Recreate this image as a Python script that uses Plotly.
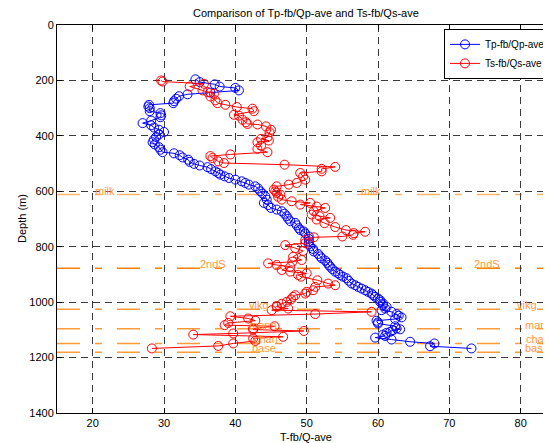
import plotly.graph_objects as go

# ---- data ----
p_depth = [196, 206, 214, 222, 227, 236, 244, 250, 257, 266, 275, 282, 288, 294, 300, 311, 318, 326,
           333, 345, 354, 362, 370, 378, 386, 395, 404, 413, 423, 431, 441, 450, 459, 463, 470, 478,
           486, 494, 501, 507, 513, 520, 528, 534, 540, 546, 552, 558, 564, 570, 576, 582, 590, 600,
           608, 618, 630, 642, 650, 660, 666, 672, 681, 690, 699, 708, 714, 723, 733, 740, 745, 752,
           763, 772, 781, 790, 799, 808, 817, 826, 835, 842, 850, 858, 866, 872, 881, 890, 896, 902,
           908, 914, 923, 933, 939, 945, 951, 957, 963, 969, 975, 981, 987, 993, 999, 1005, 1011,
           1017, 1023, 1029, 1035, 1043, 1049, 1055, 1061, 1067, 1073, 1077, 1087, 1095, 1098, 1101,
           1107, 1111, 1117, 1122, 1128, 1135, 1143, 1149, 1159, 1167]
p_val = [34.4, 35.0, 37.1, 37.8, 40.0, 40.5, 36.5, 33.3, 32.1, 31.7, 31.4, 31.3, 27.9, 27.8, 28.0, 28.0,
         29.5, 29.6, 29.5, 28.2, 27.0, 28.2, 28.6, 29.3, 30.0, 29.3, 28.9, 28.6, 28.4, 28.7, 29.3, 29.5,
         29.8, 31.4, 32.2, 32.6, 33.4, 33.6, 34.2, 35.0, 36.1, 36.6, 37.2, 37.6, 37.9, 38.5, 39.1, 40.0,
         40.9, 41.4, 41.9, 42.8, 43.2, 43.5, 43.8, 44.2, 44.4, 44.0, 44.6, 45.0, 45.8, 46.5, 46.9, 47.2,
         47.4, 47.7, 48.4, 48.6, 48.9, 49.1, 49.6, 49.8, 50.3, 50.3, 50.3, 50.3, 50.5, 50.9, 51.0, 51.6,
         51.9, 52.1, 52.6, 52.9, 53.1, 53.3, 53.6, 54.0, 54.4, 54.7, 55.1, 55.6, 55.9, 56.3, 56.8, 57.2,
         57.7, 58.2, 58.6, 59.1, 59.3, 59.6, 60.0, 60.3, 60.3, 60.7, 60.7, 61.2, 61.0, 60.5, 61.9, 62.6,
         62.9, 63.3, 62.4, 59.8, 60.0, 60.0, 62.4, 62.6, 63.1, 62.1, 61.7, 61.2, 60.7, 61.0, 59.6, 61.9,
         64.5, 67.9, 67.3, 73.1]

s_depth = [200, 204, 212, 222, 236, 242, 248, 258, 272, 282, 288, 296, 302, 311, 324, 327, 342, 351,
           357, 359, 366, 378, 387, 405, 411, 417, 423, 435, 447, 459, 467, 473, 480, 492, 498, 504,
           512, 519, 528, 534, 546, 558, 570, 576, 582, 594, 600, 606, 612, 620, 630, 636, 642, 648,
           655, 660, 672, 684, 690, 696, 702, 715, 729, 740, 746, 751, 757, 763, 766, 776, 787, 794,
           805, 815, 836, 848, 854, 860, 866, 872, 884, 890, 896, 902, 908, 921, 933, 939, 945, 957,
           963, 969, 975, 981, 990, 999, 1006, 1014, 1017, 1023, 1029, 1035, 1043, 1051, 1059, 1067,
           1075, 1083, 1087, 1095, 1099, 1104, 1113, 1117, 1125, 1131, 1140, 1149, 1158, 1167]
s_val = [29.6, 29.8, 35.6, 33.6, 35.4, 36.1, 37.0, 36.5, 37.2, 37.5, 38.6, 40.2, 42.4, 42.6, 39.8, 40.5,
         41.0, 41.5, 41.7, 43.1, 44.3, 45.0, 44.8, 44.5, 43.6, 44.7, 43.1, 43.6, 43.1, 44.5, 39.3, 36.5,
         36.8, 37.6, 38.4, 46.9, 54.0, 52.1, 52.1, 49.1, 49.5, 49.8, 48.6, 47.5, 45.8, 45.4, 45.6, 45.8,
         46.3, 46.0, 46.5, 47.9, 50.5, 49.1, 51.4, 52.6, 51.0, 50.7, 51.8, 53.3, 51.4, 52.5, 54.0, 55.5,
         58.2, 56.6, 56.5, 55.0, 51.0, 49.8, 49.8, 47.0, 48.4, 49.5, 48.1, 49.3, 48.0, 44.6, 45.8, 47.7,
         46.5, 47.7, 50.0, 48.8, 49.2, 51.5, 53.0, 54.0, 51.2, 50.9, 50.0, 49.8, 48.4, 48.1, 47.8, 47.2,
         46.5, 45.8, 45.8, 47.4, 45.1, 59.1, 51.2, 39.3, 41.8, 42.8, 39.0, 38.5, 45.5, 42.5, 42.5, 49.6,
         39.7, 34.1, 46.7, 42.5, 42.8, 39.7, 37.6, 28.3]

formations = ["milk", "2ndS", "vikg", "mann", "chan", "base"]
form_depth = [612, 878, 1026, 1096, 1149, 1181]
label_x_left = [20.0, 34.7, 41.6, 41.6, 42.3, 42.0]
label_x_right = [57.4, 73.2, 79.2, 80.3, 80.4, 80.3]
form_color = ["#FFB468", "#FF8000", "#FF9A38", "#FF9A38", "#FF9A38", "#FF9A38"]

x_ticks = [20, 30, 40, 50, 60, 70, 80]
y_ticks = [0, 200, 400, 600, 800, 1000, 1200, 1400]

FONT = "Liberation Sans, Arial, sans-serif"

fig = go.Figure()
fig.add_trace(go.Scatter(
    x=p_val, y=p_depth, mode="lines+markers", name="Tp-fb/Qp-ave",
    line=dict(color="#0000FF", width=1),
    marker=dict(symbol="circle-open", size=9, color="#0000FF", line=dict(width=1)),
))
fig.add_trace(go.Scatter(
    x=s_val, y=s_depth, mode="lines+markers", name="Ts-fb/Qs-ave",
    line=dict(color="#FF0000", width=1),
    marker=dict(symbol="circle-open", size=9, color="#FF0000", line=dict(width=1)),
))

for name, d, xl, xr, c in zip(formations, form_depth, label_x_left, label_x_right, form_color):
    fig.add_shape(type="line", xref="paper", x0=0, x1=1, yref="y", y0=d, y1=d,
                  line=dict(color=c, width=1.5, dash="23px,15px,7px,15px"), layer="between")
    for xx in (xl, xr):
        fig.add_annotation(x=xx, y=d, text=name, showarrow=False, xanchor="left",
                           yanchor="middle", yshift=4,
                           font=dict(family=FONT, size=11, color="#FF9A38"))

axis_common = dict(
    showgrid=True, gridcolor="#3a3a3a", gridwidth=1, griddash="7px,5px",
    zeroline=False, showline=True, linecolor="black", linewidth=1,
    ticks="inside", ticklen=5, tickcolor="black",
    tickfont=dict(family=FONT, size=11, color="black"),
    automargin=False,
)
fig.update_xaxes(range=[15, 84.25], tickvals=x_ticks, mirror="ticks", **axis_common)
fig.update_yaxes(range=[1400, 0], tickvals=y_ticks, **axis_common)

fig.add_annotation(xref="paper", yref="paper", x=0.504, y=1, yshift=12, text="Comparison of Tp-fb/Qp-ave and Ts-fb/Qs-ave",
                   showarrow=False, xanchor="center", yanchor="middle",
                   font=dict(family=FONT, size=11, color="black"))
fig.add_annotation(xref="paper", yref="paper", x=0.504, y=0, yshift=-24, text="T-fb/Q-ave",
                   showarrow=False, xanchor="center", yanchor="middle",
                   font=dict(family=FONT, size=11, color="black"))
fig.add_annotation(xref="paper", yref="paper", x=0, xshift=-35, y=0.5, text="Depth (m)", textangle=-90,
                   showarrow=False, xanchor="center", yanchor="middle",
                   font=dict(family=FONT, size=11, color="black"))

# the page body has an 8px default margin, so the figure is sized to end at the window edge
fig.update_layout(
    width=543, height=435,
    margin=dict(l=49, r=0, t=17, b=30),
    paper_bgcolor="white", plot_bgcolor="white",
    showlegend=True,
    legend=dict(x=1, y=0.99, xanchor="right", yanchor="top",
                bgcolor="white", bordercolor="black", borderwidth=1,
                font=dict(family=FONT, size=10, color="black"),
                itemwidth=30, tracegroupgap=0),
)

fig.write_html("out.html")
